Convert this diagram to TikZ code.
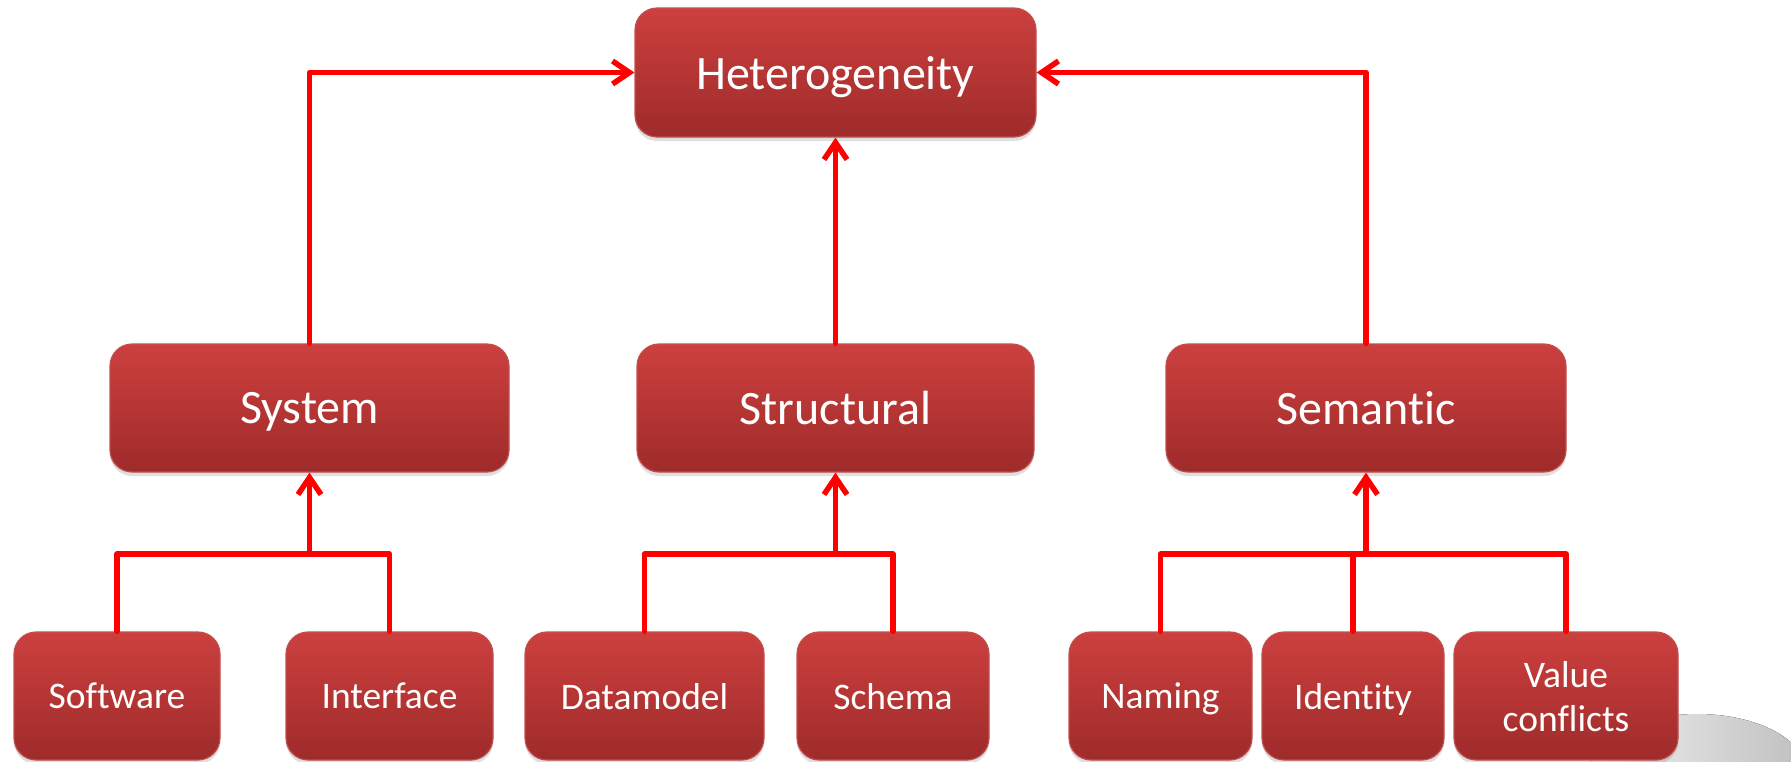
\documentclass[tikz,border=0pt]{standalone}
\usepackage{fontspec}
\setmainfont[Ligatures={NoCommon}]{Carlito}
\usetikzlibrary{arrows.meta,shadows}
\definecolor{boxtop}{HTML}{CC403E}
\definecolor{boxbot}{HTML}{9E2B2A}
\definecolor{boxline}{HTML}{C0504D}
\definecolor{linkred}{HTML}{FF0000}
\tikzset{
  box/.style={rounded corners=22pt, draw=boxline, line width=1.2pt,
    top color=boxtop, bottom color=boxbot, text=white,
    minimum height=128pt, inner sep=4pt, align=center,
    text depth=0pt,
    drop shadow={opacity=0.25, shadow xshift=0pt, shadow yshift=-4pt}},
  bigbox/.style={box, font=\fontsize{48}{54}\selectfont},
  smallbox/.style={box, font=\fontsize{37.5}{44}\selectfont},
  link/.style={draw=linkred, line width=5.5pt, line cap=round, line join=round},
  uplink/.style={link, -{Straight Barb[length=17pt,width=23pt,line width=5.5pt]}}
}
\begin{document}
\begin{tikzpicture}[x=1pt,y=-1pt]
\useasboundingbox (0,0) rectangle (1791,761);
% gray disc at bottom right
\fill[left color=gray!10, right color=gray!50] (1697,770) ellipse [x radius=108pt, y radius=56pt];
% top level
\node[bigbox, minimum width=401pt, minimum height=129pt] (het) at (835.5,72.5) {Heterogeneity};
% middle level
\node[bigbox, minimum width=399pt] (sys) at (309.5,408) {System};
\node[bigbox, minimum width=397pt] (str) at (835.5,408) {Structural};
\node[bigbox, minimum width=400pt] (sem) at (1366,408) {Semantic};
% bottom level
\node[smallbox, minimum width=206pt] (soft) at (117,696) {Software};
\node[smallbox, minimum width=207pt] (intf) at (389.5,696) {Interface};
\node[smallbox, minimum width=239pt] (dm) at (644.5,696) {Datamodel};
\node[smallbox, minimum width=192pt] (sch) at (893,696) {Schema};
\node[smallbox, minimum width=183pt] (nam) at (1160.5,696) {Naming};
\node[smallbox, minimum width=182pt] (idn) at (1353,696) {Identity};
\node[smallbox, minimum width=224pt] (val) at (1566,696) {Value\\conflicts};
% junctions
\coordinate (jsys) at (309.5,554);
\coordinate (jstr) at (835.5,554);
\coordinate (jsem) at (1366,554);
% top connectors
\draw[uplink] (sys.north) |- (het.west);
\draw[uplink] (sem.north) |- (het.east);
\draw[uplink] (str.north) -- (het.south);
% system group
\draw[link] (soft.north) |- (jsys) -| (intf.north);
\draw[uplink] (jsys) -- (sys.south);
% structural group
\draw[link] (dm.north) |- (jstr) -| (sch.north);
\draw[uplink] (jstr) -- (str.south);
% semantic group
\draw[link] (nam.north) |- (jsem) -| (val.north);
\draw[link] (idn.north) -- (idn.north |- jsem);
\draw[uplink] (jsem) -- (sem.south);
\end{tikzpicture}
\end{document}
